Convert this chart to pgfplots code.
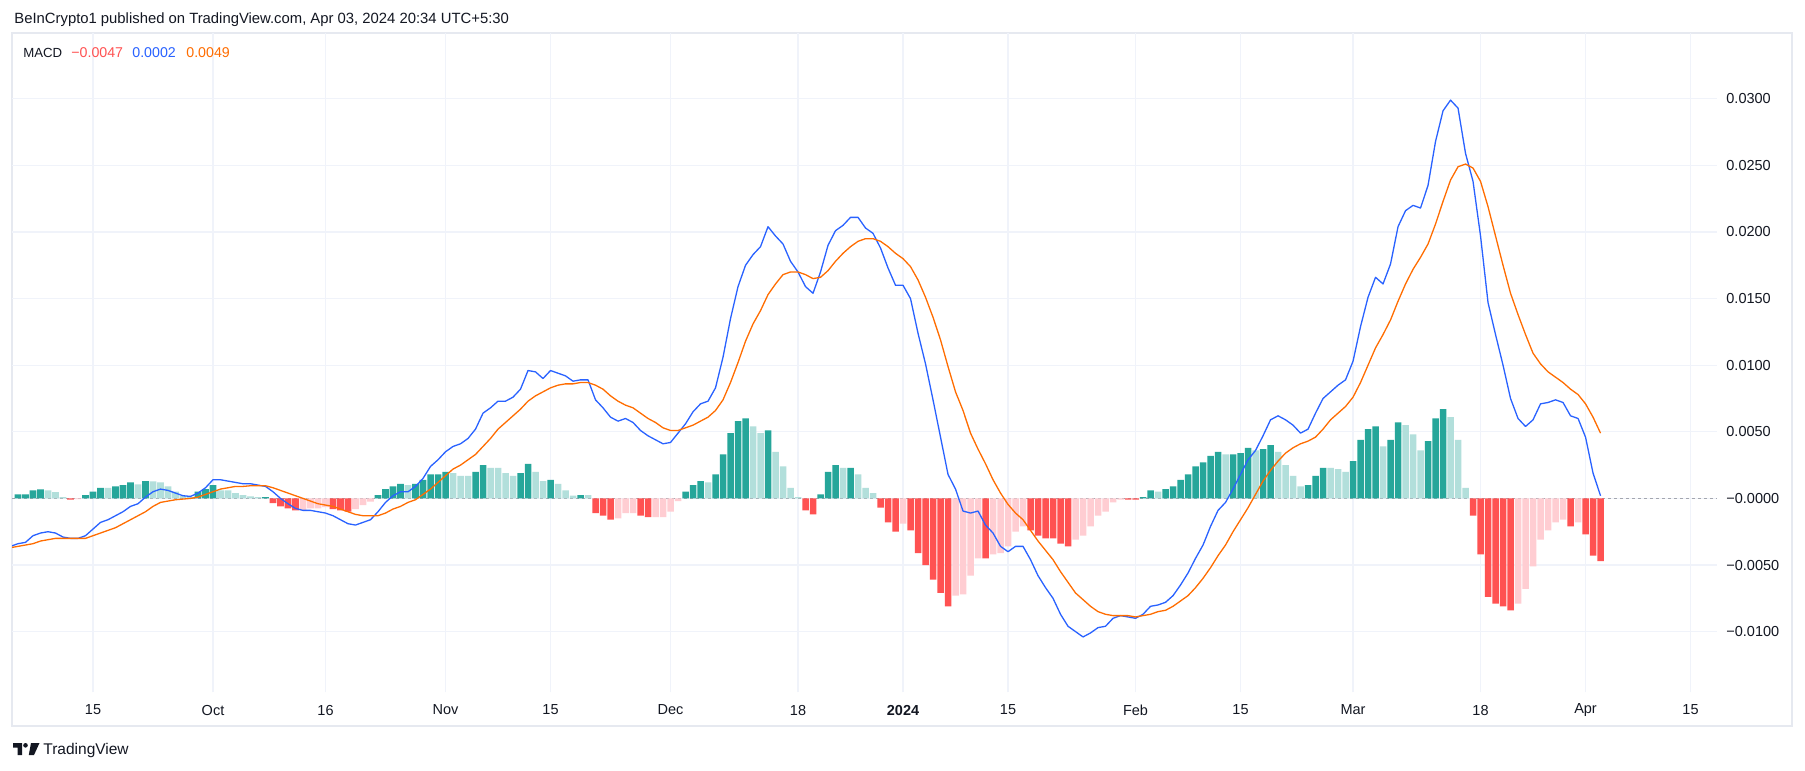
\documentclass[border=0pt]{standalone}
\usepackage{pgfplots}
\pgfplotsset{compat=1.18}
\usepackage{pgfplotstable}
\usepackage{fontspec}
\setmainfont{Liberation Sans}
\definecolor{tvgreen}{HTML}{26A69A}
\definecolor{tvlgreen}{HTML}{B2DFDB}
\definecolor{tvred}{HTML}{FF5252}
\definecolor{tvpink}{HTML}{FFCDD2}
\definecolor{tvblue}{HTML}{2962FF}
\definecolor{tvorange}{HTML}{FF6D00}
\definecolor{tvgrid}{HTML}{F0F3FA}
\definecolor{tvtext}{HTML}{131722}
\definecolor{tvframe}{HTML}{E6E9F0}
\definecolor{tvzero}{HTML}{A3A6AF}

\pgfplotstableread{
d m s
-27 -0.0036 -0.0037
-26 -0.0034 -0.0036
-25 -0.0033 -0.0035
-24 -0.0028 -0.0034
-23 -0.0026 -0.0032
-22 -0.0025 -0.0031
-21 -0.0026 -0.0030
-20 -0.0029 -0.0030
-19 -0.0030 -0.0030
-18 -0.0030 -0.0030
-17 -0.0028 -0.0030
-16 -0.0023 -0.0028
-15 -0.0018 -0.0026
-14 -0.0016 -0.0024
-13 -0.0013 -0.0022
-12 -0.0010 -0.0019
-11 -0.0006 -0.0016
-10 -0.0004 -0.0013
-9 0.0001 -0.0010
-8 0.0005 -0.0006
-7 0.0007 -0.0003
-6 0.0006 -0.0002
-5 0.0004 -0.0001
-4 0.0002 -0.00005
-3 0.00015 0.0
-2 0.0004 0.0001
-1 0.0008 0.0003
0 0.0014 0.0005
1 0.0014 0.0007
2 0.0013 0.0008
3 0.0012 0.0009
4 0.0011 0.0009
5 0.0011 0.00095
6 0.0010 0.00095
7 0.0009 0.00095
8 0.0005 0.0008
9 0.0 0.0006
10 -0.0004 0.0004
11 -0.00075 0.0002
12 -0.0009 0.0
13 -0.0009 -0.0002
14 -0.0010 -0.0004
15 -0.0011 -0.0005
16 -0.0013 -0.0006
17 -0.0016 -0.0008
18 -0.0019 -0.0010
19 -0.0020 -0.0012
20 -0.0018 -0.0013
21 -0.0016 -0.0013
22 -0.0010 -0.0013
23 -0.0003 -0.0011
24 0.0002 -0.0008
25 0.0005 -0.0006
26 0.0005 -0.0003
27 0.0009 -0.0001
28 0.0015 0.0003
29 0.0024 0.0007
30 0.0029 0.0012
31 0.0035 0.0017
32 0.0039 0.0022
33 0.0041 0.0025
34 0.0045 0.0029
35 0.0052 0.0033
36 0.0064 0.0039
37 0.0068 0.0045
38 0.0073 0.0052
39 0.0073 0.0057
40 0.0076 0.0062
41 0.0082 0.0067
42 0.0096 0.0073
43 0.0095 0.0077
44 0.0090 0.0080
45 0.0096 0.0083
46 0.0094 0.0085
47 0.0092 0.0086
48 0.0088 0.0086
49 0.0089 0.0087
50 0.0089 0.0087
51 0.0074 0.0085
52 0.0068 0.0082
53 0.0061 0.0077
54 0.0058 0.0073
55 0.0060 0.0070
56 0.0057 0.0068
57 0.0051 0.0064
58 0.0047 0.0060
59 0.0044 0.0057
60 0.0041 0.0053
61 0.0042 0.0051
62 0.0049 0.0051
63 0.0056 0.0053
64 0.0065 0.0055
65 0.0071 0.0058
66 0.0073 0.0061
67 0.0083 0.0066
68 0.0106 0.0074
69 0.0135 0.0087
70 0.0159 0.0102
71 0.0175 0.0118
72 0.0183 0.0131
73 0.0189 0.0141
74 0.0204 0.0153
75 0.0197 0.0161
76 0.0191 0.0168
77 0.0178 0.0170
78 0.0170 0.0170
79 0.0159 0.0168
80 0.0154 0.0165
81 0.0170 0.0166
82 0.0190 0.0171
83 0.0201 0.0178
84 0.0205 0.0184
85 0.0211 0.0189
86 0.0211 0.0193
87 0.0203 0.0195
88 0.0199 0.0195
89 0.0188 0.0193
90 0.0173 0.0189
91 0.0160 0.0184
92 0.0160 0.0180
93 0.0150 0.0174
94 0.0124 0.0164
95 0.0101 0.0151
96 0.0074 0.0136
97 0.0046 0.0119
98 0.0018 0.0099
99 0.0007 0.0080
100 -0.00095 0.0066
101 -0.0011 0.0049
102 -0.00095 0.0037
103 -0.0020 0.0026
104 -0.0026 0.0014
105 -0.0036 0.0004
106 -0.0040 -0.00045
107 -0.0036 -0.0011
108 -0.0036 -0.0016
109 -0.0046 -0.0024
110 -0.0058 -0.0032
111 -0.0067 -0.0039
112 -0.0075 -0.0046
113 -0.0087 -0.0055
114 -0.0096 -0.0063
115 -0.0100 -0.0071
116 -0.0104 -0.0076
117 -0.0101 -0.0081
118 -0.0097 -0.0085
119 -0.0096 -0.0087
120 -0.0090 -0.0088
121 -0.0088 -0.0088
122 -0.0089 -0.0088
123 -0.0090 -0.0089
124 -0.0087 -0.0088
125 -0.0081 -0.0087
126 -0.0080 -0.0085
127 -0.0078 -0.0084
128 -0.0073 -0.0081
129 -0.0065 -0.0077
130 -0.0056 -0.0073
131 -0.0045 -0.0067
132 -0.0035 -0.0060
133 -0.0021 -0.0052
134 -0.0009 -0.0043
135 -0.0003 -0.0035
136 0.0007 -0.0025
137 0.0018 -0.0016
138 0.0029 -0.0007
139 0.0036 0.0003
140 0.0047 0.0013
141 0.0059 0.0021
142 0.0062 0.0028
143 0.0059 0.0034
144 0.0055 0.0038
145 0.0049 0.0041
146 0.0052 0.0043
147 0.0064 0.0046
148 0.0075 0.0052
149 0.0080 0.0059
150 0.0085 0.0064
151 0.0089 0.0069
152 0.0103 0.0076
153 0.0129 0.0087
154 0.0151 0.0100
155 0.0166 0.0113
156 0.0161 0.0123
157 0.0176 0.0134
158 0.0204 0.0148
159 0.0216 0.0161
160 0.0220 0.0172
161 0.0218 0.0181
162 0.0235 0.0191
163 0.0268 0.0206
164 0.0291 0.0223
165 0.0299 0.0239
166 0.0293 0.0249
167 0.0259 0.0251
168 0.0238 0.0248
169 0.0197 0.0238
170 0.0147 0.0219
171 0.0123 0.0197
172 0.0100 0.0175
173 0.0075 0.0154
174 0.0060 0.0138
175 0.0054 0.0123
176 0.0059 0.0109
177 0.0071 0.0101
178 0.0072 0.0095
179 0.0074 0.0091
180 0.0072 0.0087
181 0.0062 0.0082
182 0.0060 0.0078
183 0.0046 0.0071
184 0.0019 0.0061
185 0.0002 0.0049
}\macdtable

\pgfplotstableread{
d h
-26 0.0003
-25 0.0003
-24 0.0006
-23 0.00068
-17 0.00025
-16 0.0005
-15 0.0008
-13 0.0009
-12 0.0010
-11 0.0012
-9 0.0013
-2 0.0005
-1 0.0007
0 0.0010
7 0.0001
22 0.00025
23 0.0007
24 0.0009
25 0.0011
27 0.0011
28 0.0014
29 0.0018
30 0.0018
31 0.0020
35 0.0020
36 0.0025
41 0.0019
42 0.0026
45 0.0014
49 0.00025
63 0.0005
64 0.0010
65 0.0013
67 0.0018
68 0.0033
69 0.0049
70 0.0058
71 0.0060
74 0.0051
81 0.0003
82 0.0020
83 0.0025
85 0.0023
124 0.0001
125 0.0006
127 0.0007
128 0.0009
129 0.0014
130 0.0018
131 0.0024
132 0.0027
133 0.0032
134 0.0035
136 0.0033
137 0.0034
138 0.0038
140 0.0037
141 0.0040
146 0.0010
147 0.0017
148 0.0023
152 0.0028
153 0.0044
154 0.0052
155 0.0054
157 0.0044
158 0.0057
162 0.0043
163 0.0060
164 0.0067
}\histG

\pgfplotstableread{
d h
-22 0.0006
-21 0.00048
-20 0.0001
-14 0.0008
-10 0.00105
-8 0.00128
-7 0.0012
-6 0.0009
-5 0.0005
-4 0.0002
-3 0.0001
1 0.0006
2 0.0006
3 0.0004
4 0.00025
5 0.00015
6 0.0001
26 0.0010
32 0.0019
33 0.0017
34 0.0017
37 0.0023
38 0.0023
39 0.0019
40 0.0017
43 0.0020
44 0.0013
46 0.0011
47 0.0006
48 0.0002
50 0.00025
66 0.0012
72 0.0054
73 0.0049
75 0.0035
76 0.0024
77 0.0008
78 0.0001
84 0.0023
86 0.0018
87 0.0008
88 0.0004
126 0.0005
135 0.0033
139 0.0036
142 0.0035
143 0.0025
144 0.0017
145 0.0009
149 0.0023
150 0.0022
151 0.0020
156 0.0039
159 0.0055
160 0.0048
161 0.0036
165 0.0061
166 0.0044
167 0.0008
}\histg

\pgfplotstableread{
d h
-19 -0.0001
8 -0.00035
9 -0.0006
10 -0.00075
11 -0.0009
16 -0.0008
17 -0.0009
18 -0.0010
51 -0.0011
52 -0.0013
53 -0.0016
57 -0.0013
58 -0.0014
79 -0.0009
80 -0.0012
89 -0.0007
90 -0.0018
91 -0.0025
93 -0.0024
94 -0.0041
95 -0.0050
96 -0.0061
97 -0.0071
98 -0.0081
103 -0.0045
109 -0.0024
110 -0.0028
111 -0.0030
112 -0.0030
113 -0.0034
114 -0.0036
122 -0.0001
123 -0.0001
168 -0.0013
169 -0.0042
170 -0.0074
171 -0.0079
172 -0.0081
173 -0.0084
181 -0.0021
183 -0.0027
184 -0.0043
185 -0.0047
}\histR

\pgfplotstableread{
d h
-18 -0.00005
12 -0.0009
13 -0.00075
14 -0.00075
15 -0.00065
19 -0.0008
20 -0.0005
21 -0.00025
54 -0.0015
55 -0.0011
56 -0.0011
59 -0.0014
60 -0.0014
61 -0.0010
62 -0.0002
92 -0.0019
99 -0.0073
100 -0.0072
101 -0.0058
102 -0.0045
104 -0.0042
105 -0.0041
106 -0.0036
107 -0.0025
108 -0.0021
115 -0.0031
116 -0.0028
117 -0.0021
118 -0.0013
119 -0.0010
120 -0.0003
121 -0.0001
174 -0.0079
175 -0.0068
176 -0.0051
177 -0.0031
178 -0.0024
179 -0.0018
180 -0.0016
182 -0.0018
}\histr

\begin{document}
\begin{tikzpicture}
\path[fill=white, use as bounding box] (0,0) rectangle (902.5pt,-385.5pt);
% header
\node[anchor=west, inner sep=0pt, font=\fontsize{7.42pt}{8pt}\selectfont, text=tvtext] at (7pt,-10pt) {BeInCrypto1 published on TradingView.com, Apr 03, 2024 20:34 UTC+5:30};
% frame
\draw[tvframe, line width=1pt] (6pt,-16.5pt) rectangle (896pt,-363pt);
\begin{axis}[
  at={(6pt,-16.5pt)}, anchor=north west,
  width=852.5pt, height=329.5pt, scale only axis,
  xmin=-26.8, xmax=200.53, ymin=-0.014535, ymax=0.03494,
  axis line style={draw=none},
  tick style={draw=none},
  xtick={-16,0,15,31,45,61,78,92,106,123,137,152,169,183,197},
  xticklabels={15,Oct,16,Nov,15,Dec,18,\textbf{2024},15,Feb,15,Mar,18,Apr,15},
  ytick={-0.01,-0.005,0,0.005,0.01,0.015,0.02,0.025,0.03},
  yticklabels={−0.0100,−0.0050,−0.0000,0.0050,0.0100,0.0150,0.0200,0.0250,0.0300},
  yticklabel pos=right,
  scaled y ticks=false,
  grid=major,
  major grid style={draw=tvgrid, line width=0.6pt},
  xticklabel style={anchor=center, yshift=-9pt, inner sep=0pt, font=\fontsize{7.25pt}{8pt}\selectfont, text=tvtext},
  yticklabel style={anchor=west, xshift=4.5pt, inner sep=0pt, font=\fontsize{7.25pt}{8pt}\selectfont, text=tvtext},
  clip=true,
]
\addplot[tvzero, line width=0.5pt, dash pattern=on 1.5pt off 1.5pt] coordinates {(-26.8,0) (200.53,0)};
\addplot[ybar, bar shift=0pt, bar width=0.87, fill=tvgreen, draw=none] table[x=d,y=h] {\histG};
\addplot[ybar, bar shift=0pt, bar width=0.87, fill=tvlgreen, draw=none] table[x=d,y=h] {\histg};
\addplot[ybar, bar shift=0pt, bar width=0.87, fill=tvred, draw=none] table[x=d,y=h] {\histR};
\addplot[ybar, bar shift=0pt, bar width=0.87, fill=tvpink, draw=none] table[x=d,y=h] {\histr};
\addplot[tvblue, line width=0.65pt, line join=round] table[x=d,y=m] {\macdtable};
\addplot[tvorange, line width=0.65pt, line join=round] table[x=d,y=s] {\macdtable};
\end{axis}
% legend
\node[anchor=west, inner sep=0pt, font=\fontsize{6.6pt}{7pt}\selectfont, text=tvtext] at (11.5pt,-26.5pt) {MACD};
\node[anchor=west, inner sep=0pt, font=\fontsize{7.1pt}{8pt}\selectfont, text=tvred] at (35.5pt,-26.5pt) {−0.0047};
\node[anchor=west, inner sep=0pt, font=\fontsize{7.1pt}{8pt}\selectfont, text=tvblue] at (66pt,-26.5pt) {0.0002};
\node[anchor=west, inner sep=0pt, font=\fontsize{7.1pt}{8pt}\selectfont, text=tvorange] at (93pt,-26.5pt) {0.0049};
% footer logo
\fill[tvtext] (6.5pt,-371.5pt) -- (11pt,-371.5pt) -- (11pt,-377.5pt) -- (8.75pt,-377.5pt) -- (8.75pt,-373.75pt) -- (6.5pt,-373.75pt) -- cycle;
\fill[tvtext] (12.75pt,-372.65pt) circle (1.15pt);
\fill[tvtext] (15.5pt,-371.5pt) -- (19.75pt,-371.5pt) -- (17pt,-377.5pt) -- (14.4pt,-377.5pt) -- cycle;
\node[anchor=west, inner sep=0pt, font=\fontsize{7.75pt}{8pt}\selectfont, text=tvtext] at (21.5pt,-375pt) {TradingView};
\end{tikzpicture}
\end{document}
